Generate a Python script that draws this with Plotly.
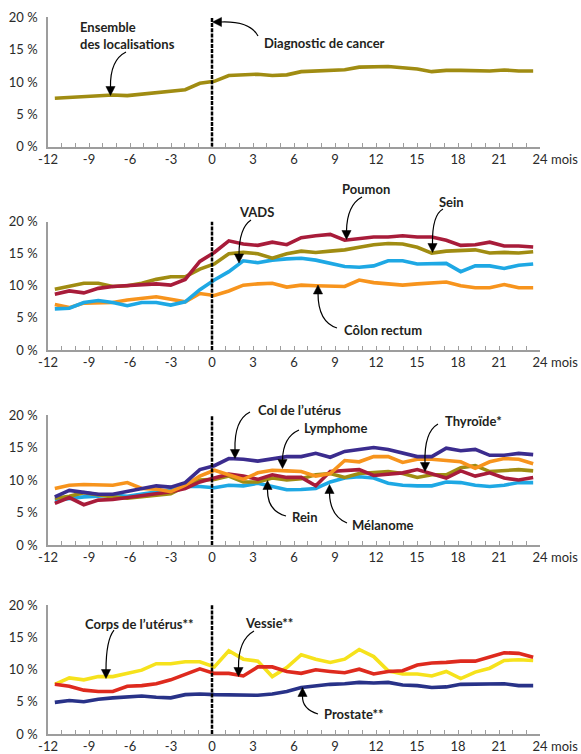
import plotly.graph_objects as go

# ---------------- data ----------------
MONTHS = [-11.5, -10.44, -9.38, -8.32, -7.26, -6.2, -5.14, -4.08, -3.02, -1.96, -0.89,
          0.17, 1.23, 2.29, 3.35, 4.41, 5.47, 6.53, 7.59, 8.65, 9.71, 10.77, 11.83,
          12.89, 13.95, 15.02, 16.08, 17.14, 18.2, 19.26, 20.32, 21.38, 22.44, 23.5]

X_TICKS = [-12, -9, -6, -3, 0, 3, 6, 9, 12, 15, 18, 21, 24]
X_TICK_TEXT = ["-12", "-9", "-6", "-3", "0", "3", "6", "9", "12", "15", "18", "21", "24"]
Y_TICKS = [0, 5, 10, 15, 20]
Y_TICK_TEXT = ["0 %", "5 %", "10 %", "15 %", "20 %"]

# panel 1
ensemble = [7.5, 7.6, 7.8, 7.9, 8.0, 7.9, 8.1, 8.3, 8.6, 8.8, 9.8, 10.1, 11.0, 11.1, 11.2,
            11.0, 11.1, 11.6, 11.7, 11.75, 11.9, 12.3, 12.35, 12.4, 12.2, 12.0, 11.6,
            11.8, 11.8, 11.8, 11.7, 11.85, 11.7, 11.7]
# panel 2
sein = [9.45, 9.9, 10.4, 10.4, 9.9, 10.0, 10.4, 11.0, 11.4, 11.4, 12.6, 13.4, 15.0, 15.2,
        15.0, 14.3, 15.0, 15.4, 15.2, 15.4, 15.6, 16.0, 16.4, 16.6, 16.5, 16.0, 15.1,
        15.4, 15.5, 15.6, 15.1, 15.2, 15.1, 15.3]
poumon = [8.7, 9.2, 8.9, 9.6, 9.9, 10.0, 10.1, 10.3, 10.1, 11.0, 13.8, 15.2, 17.0, 16.5,
          16.3, 16.8, 16.4, 17.5, 17.8, 18.0, 17.1, 17.3, 17.6, 17.6, 17.8, 17.6, 17.6,
          17.1, 16.3, 16.4, 16.8, 16.2, 16.2, 16.05]
vads = [6.4, 6.5, 7.4, 7.7, 7.4, 6.9, 7.4, 7.4, 7.0, 7.5, 9.4, 10.9, 12.2, 13.9, 13.6,
        14.0, 14.2, 14.3, 14.0, 13.5, 13.0, 12.9, 13.1, 13.9, 13.9, 13.4, 13.4, 13.5,
        12.2, 13.1, 13.1, 12.7, 13.2, 13.4]
colon_rectum = [7.1, 6.6, 7.3, 7.3, 7.4, 7.8, 8.05, 8.3, 7.9, 7.5, 8.8, 8.5, 9.2, 10.1,
                10.3, 10.4, 9.8, 10.1, 10.0, 10.0, 9.9, 10.9, 10.5, 10.3, 10.1, 10.3,
                10.5, 10.6, 10.0, 9.7, 9.7, 10.2, 9.7, 9.7]
# panel 3
col_uterus = [7.4, 8.4, 8.1, 7.8, 7.8, 8.2, 8.6, 9.1, 8.9, 9.6, 11.6, 12.2, 13.3, 13.2,
              12.9, 13.2, 13.6, 13.6, 14.1, 13.5, 14.4, 14.7, 15.0, 14.7, 14.1, 13.6,
              13.6, 14.9, 14.5, 14.7, 13.8, 13.8, 14.1, 13.9]
lymphome = [8.7, 9.2, 9.3, 9.2, 9.2, 9.6, 8.7, 8.6, 8.2, 9.2, 10.6, 11.5, 10.8, 10.1,
            11.1, 11.5, 11.4, 11.3, 10.6, 11.0, 13.0, 12.8, 13.6, 13.6, 12.7, 13.2,
            13.2, 13.0, 12.8, 11.8, 12.8, 13.3, 13.2, 12.5]
thyroide = [6.4, 7.3, 6.2, 6.9, 7.0, 7.3, 7.5, 7.8, 8.2, 8.7, 9.7, 10.3, 10.9, 10.6,
            10.1, 10.8, 10.4, 10.4, 9.1, 11.3, 11.4, 11.6, 10.7, 10.9, 11.1, 11.6, 10.9,
            10.3, 11.4, 10.6, 11.1, 10.3, 10.0, 10.4]
rein = [7.2, 7.5, 8.05, 7.7, 7.4, 7.2, 7.4, 7.7, 7.9, 9.0, 10.0, 10.1, 10.6, 9.7, 9.7,
        10.3, 10.0, 10.2, 10.8, 11.0, 10.4, 11.0, 11.1, 11.3, 11.0, 10.4, 10.8, 10.8,
        11.9, 12.2, 11.3, 11.4, 11.6, 11.4]
melanome = [6.9, 7.2, 7.4, 7.5, 7.7, 7.5, 7.8, 8.2, 8.5, 9.0, 9.0, 8.8, 9.2, 9.1, 9.5,
            9.0, 8.5, 8.55, 8.7, 9.7, 10.3, 10.5, 10.3, 9.5, 9.2, 9.1, 9.1, 9.7, 9.6,
            9.2, 9.0, 9.2, 9.6, 9.6]
# panel 4
corps_uterus = [7.7, 8.7, 8.4, 8.9, 8.9, 9.4, 9.9, 10.9, 10.9, 11.2, 11.2, 10.4, 12.9,
                11.6, 11.3, 8.9, 10.3, 12.3, 11.6, 11.1, 11.6, 13.1, 12.0, 9.8, 9.3, 9.3,
                9.0, 9.7, 8.6, 9.6, 10.2, 11.4, 11.5, 11.4]
vessie = [7.7, 7.4, 6.8, 6.6, 6.6, 7.4, 7.5, 7.8, 8.4, 9.2, 10.1, 9.4, 9.4, 9.0, 10.4,
          10.4, 9.7, 9.4, 9.95, 9.7, 9.5, 10.05, 9.3, 9.7, 9.8, 10.7, 11.0, 11.1, 11.3,
          11.3, 11.9, 12.6, 12.5, 11.9]
prostate = [4.9, 5.2, 5.0, 5.4, 5.6, 5.8, 5.9, 5.7, 5.6, 6.1, 6.2, 6.1, 6.1, 6.0, 6.0,
            6.2, 6.6, 7.2, 7.5, 7.7, 7.8, 8.0, 7.9, 8.0, 7.6, 7.5, 7.2, 7.3, 7.7, 7.7,
            7.7, 7.8, 7.5, 7.5]

OLIVE = "#A08C12"
CRIMSON = "#A81C3A"
SKY = "#1EA8E4"
ORANGE = "#F7941D"
PURPLE = "#3B2C8E"
NAVY = "#283288"
YELLOW = "#F6E21C"
RED = "#DE2A1E"

PANELS = [
    [(ensemble, OLIVE)],
    [(colon_rectum, ORANGE), (vads, SKY), (sein, OLIVE), (poumon, CRIMSON)],
    [(melanome, SKY), (rein, OLIVE), (thyroide, CRIMSON), (lymphome, ORANGE), (col_uterus, PURPLE)],
    [(prostate, NAVY), (corps_uterus, YELLOW), (vessie, RED)],
]

# ---------------- layout geometry (pixels) ----------------
W, H = 581, 754
X_LEFT, X_RIGHT = 48, 540            # pixel of -12 and 24
PANEL_Y0 = [146.7, 350.0, 545.0, 734.0]   # pixel of 0 %
PANEL_S = [6.47, 6.42, 6.5, 6.45]          # pixels per %


def px2paper(px, py):
    return px / W, 1 - py / H


fig = go.Figure()
GRAY = "#9d9d9d"
TXT = "#231F20"
TICKFONT = dict(family="Lato, 'Open Sans', sans-serif", size=13, color="#2a2a2a")
LABFONT = dict(family="Lato, 'Open Sans', sans-serif", size=13, color=TXT)

layout = dict(width=W, height=H, margin=dict(l=0, r=0, t=0, b=0, autoexpand=False),
              paper_bgcolor="white", plot_bgcolor="white", showlegend=False)

shapes = []
annotations = []

for p, series in enumerate(PANELS):
    k = "" if p == 0 else str(p + 1)
    for vals, color in series:
        fig.add_trace(go.Scatter(x=MONTHS, y=vals, mode="lines",
                                 line=dict(color=color, width=3.6),
                                 xaxis="x" + k, yaxis="y" + k, hoverinfo="skip"))
    y0 = PANEL_Y0[p]
    y20 = y0 - 20 * PANEL_S[p]
    layout["xaxis" + k] = dict(
        domain=[X_LEFT / W, X_RIGHT / W], range=[-12, 24], anchor="y" + k,
        tickmode="array", tickvals=X_TICKS, ticktext=X_TICK_TEXT,
        ticks="inside", ticklen=4, tickwidth=1, tickcolor=GRAY,
        minor=dict(dtick=1, tick0=0, ticks="inside", ticklen=4, tickwidth=1, tickcolor=GRAY),
        showline=True, linecolor=GRAY, linewidth=1.5, automargin=False,
        showgrid=False, zeroline=False, tickfont=TICKFONT, fixedrange=True)
    layout["yaxis" + k] = dict(
        domain=[1 - y0 / H, 1 - y20 / H], range=[0, 20], anchor="x" + k,
        tickmode="array", tickvals=Y_TICKS, ticktext=Y_TICK_TEXT,
        ticks="outside", ticklen=6, tickcolor="rgba(0,0,0,0)",
        showline=True, linecolor=GRAY, linewidth=1.5, automargin=False,
        showgrid=False, zeroline=False, tickfont=TICKFONT, fixedrange=True)
    # diagnosis dashed line
    shapes.append(dict(type="line", xref="x" + k, yref="y" + k, x0=0, x1=0, y0=0, y1=20,
                       line=dict(color="black", width=2.5, dash="4px,1.2px"), layer="above"))
    # "mois" after 24
    mx, my = px2paper(549, y0 + 12)
    annotations.append(dict(xref="paper", yref="paper", x=mx, y=my, text="mois",
                            xanchor="left", yanchor="middle",
                            showarrow=False, font=TICKFONT))

# ---------------- labels & curved arrows (pixel positions) ----------------
# (text, left px, center py)
LABELS = [
    ("Ensemble<br>des localisations", 78, 35.5),
    ("Diagnostic de cancer", 262, 43),
    ("VADS", 237, 212),
    ("Poumon", 340, 189),
    ("Sein", 437, 201.7),
    ("Côlon rectum", 342, 330),
    ("Col de l’utérus", 256, 410),
    ("Lymphome", 302, 427.7),
    ("Thyroïde*", 443, 420.5),
    ("Rein", 290, 516.7),
    ("Mélanome", 350, 525),
    ("Corps de l’utérus**", 83, 624.3),
    ("Vessie**", 243, 622.5),
    ("Prostate**", 322, 714),
]
# (start, control, end-of-curve, tip, direction)
ARROWS = [
    ((126, 52), (110, 60), (110.5, 87), (110.5, 95.5), "down"),
    ((258, 36), (250, 21), (221, 22), (212.5, 22), "left"),
    ((251, 220), (239, 228), (239, 255), (239, 263), "down"),
    ((362, 197), (347, 205), (346.5, 231), (346.5, 239.5), "down"),
    ((443, 209), (432, 215), (432.5, 244), (432.5, 252.5), "down"),
    ((337, 328), (318, 322), (318, 293), (318, 285), "up"),
    ((250, 412), (234, 420), (235, 450), (235, 458.5), "down"),
    ((299, 430), (283, 437), (282.5, 460), (282.5, 468.5), "down"),
    ((438, 424), (424, 432), (425, 463), (425, 471.5), "down"),
    ((286, 516), (267, 511), (267.5, 489), (267.5, 480.5), "up"),
    ((347, 523), (330, 516), (329.5, 493), (329.5, 484.5), "up"),
    ((114, 630), (106, 640), (106, 670), (106, 678.5), "down"),
    ((254, 631), (238, 640), (238.5, 668), (238.5, 676.5), "down"),
    ((318, 714), (302, 709), (302.5, 696), (302.5, 687.5), "up"),
]

for text, lx, cy in LABELS:
    x, y = px2paper(lx, cy)
    annotations.append(dict(xref="paper", yref="paper", x=x, y=y, text="<b>%s</b>" % text,
                            xanchor="left", yanchor="middle", align="left",
                            showarrow=False, font=LABFONT))

for s, c, e, t, d in ARROWS:
    sx, sy = px2paper(*s)
    cx, cy = px2paper(*c)
    ex, ey = px2paper(*e)
    shapes.append(dict(type="path", xref="paper", yref="paper",
                       path="M %f %f Q %f %f %f %f" % (sx, sy, cx, cy, ex, ey),
                       line=dict(color="black", width=1.2), layer="above"))
    tx, ty = t
    hw = 4.6
    if d == "down":
        pts = [(tx - hw, ty - 9), (tx + hw, ty - 9), (tx, ty)]
    elif d == "up":
        pts = [(tx - hw, ty + 9), (tx + hw, ty + 9), (tx, ty)]
    else:
        pts = [(tx + 9, ty - hw), (tx + 9, ty + hw), (tx, ty)]
    dp = [px2paper(*q) for q in pts]
    path = "M %f %f L %f %f L %f %f Z" % (dp[0][0], dp[0][1], dp[1][0], dp[1][1], dp[2][0], dp[2][1])
    shapes.append(dict(type="path", xref="paper", yref="paper", path=path,
                       fillcolor="black", line=dict(color="black", width=0.5), layer="above"))

layout["shapes"] = shapes
layout["annotations"] = annotations
fig.update_layout(**layout)
fig.write_html("out.html", config={"displayModeBar": False},
               post_script="document.body.style.margin='0';document.body.style.overflow='hidden';")
